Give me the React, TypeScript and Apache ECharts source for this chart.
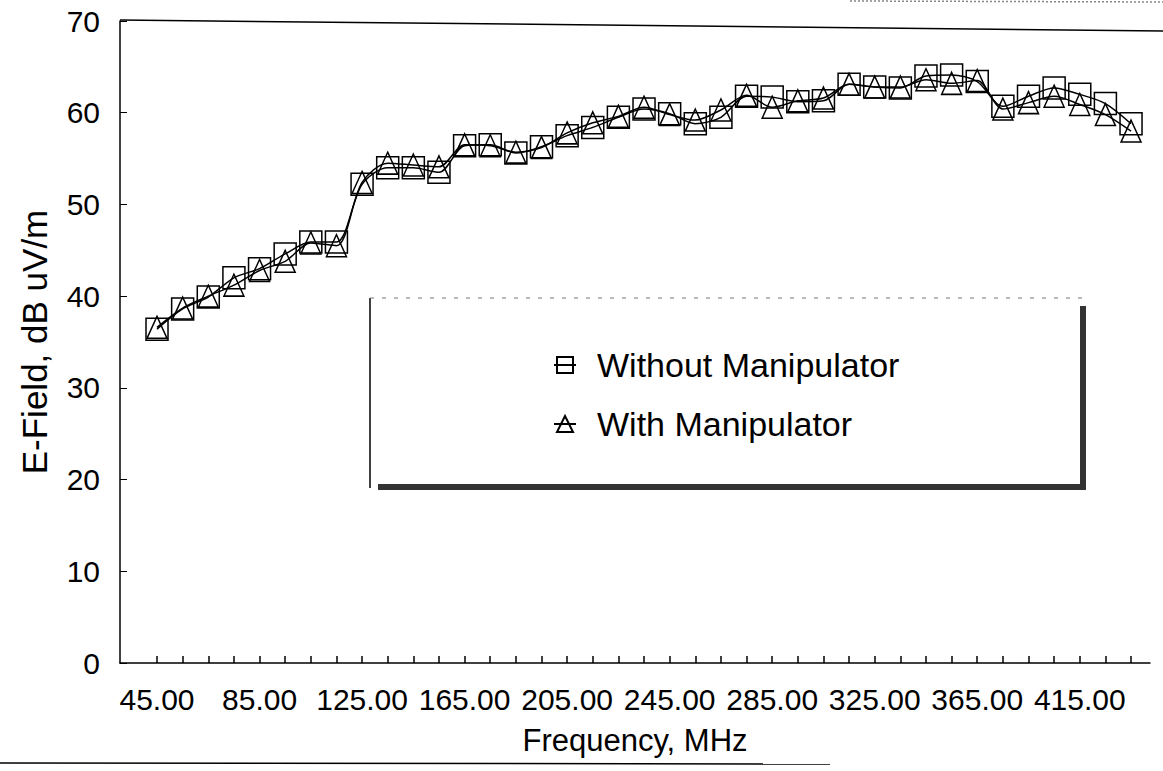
import React, { useEffect, useRef } from "react";
import * as echarts from "echarts";

// Frequency categories (MHz); one point per category
const freqs: number[] = [
  45, 55, 65, 75, 85, 95, 105, 115, 125, 135, 145, 155, 165, 175, 185, 195,
  205, 215, 225, 235, 245, 255, 265, 275, 285, 295, 305, 315, 325, 335, 345,
  355, 365, 375, 385, 400, 415, 425, 435,
];

// Indices of categories that carry a tick label (every 4th)
const labelIdx: number[] = [0, 4, 8, 12, 16, 20, 24, 28, 32, 36];

// E-Field, dB uV/m
const withoutManip: number[] = [
  36.4, 38.6, 39.9, 42.0, 43.0, 44.6, 45.9, 45.9, 52.2, 54.0, 54.0, 53.5,
  56.4, 56.5, 55.6, 56.3, 57.5, 58.4, 59.5, 60.4, 59.9, 58.8, 59.5, 61.8,
  61.7, 61.2, 61.3, 63.1, 62.8, 62.7, 64.0, 64.1, 63.4, 60.7, 61.8, 62.7,
  62.0, 61.0, 58.8,
];
const withManip: number[] = [
  36.6, 38.7, 40.0, 41.2, 42.8, 43.8, 45.8, 45.5, 52.4, 54.5, 54.3, 54.1,
  56.5, 56.4, 55.7, 56.2, 57.8, 58.9, 59.6, 60.6, 59.8, 59.2, 60.3, 61.9,
  60.6, 61.3, 61.6, 63.1, 62.8, 62.8, 63.6, 63.2, 63.5, 60.4, 61.1, 61.8,
  60.9, 59.8, 58.0,
];

const yTicks: number[] = [0, 10, 20, 30, 40, 50, 60, 70];

const FONT = "'Liberation Sans', Arial, sans-serif";

export default function App() {
  const ref = useRef<HTMLDivElement>(null);

  useEffect(() => {
    if (!ref.current) return;
    const chart = echarts.init(ref.current, null, { renderer: "svg" });
    const idx = freqs.map((_, i) => i);
    const markerStyle = {
      color: "rgba(0,0,0,0)",
      borderColor: "#000",
      borderWidth: 1.5,
    };
    chart.setOption({
      animation: false,
      backgroundColor: "#fff",
      textStyle: { fontFamily: FONT, color: "#000" },
      grid: { left: 120, top: 21, width: 1030, height: 642, containLabel: false },
      xAxis: {
        type: "value",
        min: -1.444,
        max: 38.74,
        splitLine: { show: false },
        axisLine: { show: true, onZero: false, lineStyle: { color: "#000", width: 1.5 } },
        axisTick: {
          show: true,
          inside: true,
          length: 7,
          customValues: idx,
          lineStyle: { color: "#000", width: 1.5 },
        },
        axisLabel: {
          customValues: labelIdx,
          formatter: (v: number) => freqs[Math.round(v)].toFixed(2),
          fontSize: 30,
          color: "#000",
          fontFamily: FONT,
          margin: 21,
        },
        name: "Frequency, MHz",
        nameLocation: "middle",
        nameGap: 62,
        nameTextStyle: { fontSize: 31, color: "#000", fontFamily: FONT },
      },
      yAxis: {
        type: "value",
        min: 0,
        max: 70,
        interval: 10,
        splitLine: { show: false },
        axisLine: { show: true, onZero: false, lineStyle: { color: "#000", width: 1.5 } },
        axisTick: {
          show: true,
          inside: true,
          length: 7,
          lineStyle: { color: "#000", width: 1 },
        },
        axisLabel: {
          fontSize: 30,
          color: "#000",
          fontFamily: FONT,
          margin: 20,
          customValues: yTicks,
        },
        name: "E-Field, dB uV/m",
        nameLocation: "middle",
        nameGap: 68,
        nameTextStyle: { fontSize: 35, color: "#000", fontFamily: FONT },
      },
      legend: {
        left: 553,
        top: 348,
        orient: "vertical",
        itemWidth: 22,
        itemHeight: 20,
        itemGap: 25,
        padding: 0,
        selectedMode: false,
        textStyle: {
          fontSize: 34,
          color: "#000",
          fontFamily: FONT,
          padding: [0, 0, 0, 16],
        },
        data: ["Without Manipulator", "With Manipulator"],
      },
      graphic: [
        // plot top border
        {
          type: "line",
          z: 0,
          shape: { x1: 120, y1: 20, x2: 1163, y2: 31 },
          style: { stroke: "#000", lineWidth: 1.5 },
        },
        // top-right faint frame
        {
          type: "line",
          z: 0,
          shape: { x1: 850, y1: 1, x2: 1163, y2: 2 },
          style: { stroke: "#888", lineWidth: 1.5, lineDash: [2, 2] },
        },
        // bottom separator line
        {
          type: "line",
          z: 0,
          shape: { x1: 0, y1: 763, x2: 830, y2: 764 },
          style: { stroke: "#000", lineWidth: 1.5 },
        },
        // legend box
        {
          type: "line",
          z: 0,
          shape: { x1: 370, y1: 298, x2: 370, y2: 488 },
          style: { stroke: "#000", lineWidth: 1.5 },
        },
        {
          type: "line",
          z: 0,
          shape: { x1: 370, y1: 298, x2: 1082, y2: 298 },
          style: { stroke: "#777", lineWidth: 1, lineDash: [4, 8] },
        },
        {
          type: "rect",
          z: 0,
          shape: { x: 378, y: 484, width: 708, height: 6 },
          style: { fill: "#333" },
        },
        {
          type: "rect",
          z: 0,
          shape: { x: 1080, y: 306, width: 6, height: 184 },
          style: { fill: "#333" },
        },
      ],
      series: [
        {
          name: "Without Manipulator",
          type: "line",
          data: withoutManip.map((v, i) => [i, v]),
          symbol: "rect",
          symbolSize: 22,
          smooth: 0.3,
          lineStyle: { color: "#000", width: 1.5 },
          itemStyle: markerStyle,
        },
        {
          name: "With Manipulator",
          type: "line",
          data: withManip.map((v, i) => [i, v]),
          symbol: "triangle",
          symbolSize: [20, 22],
          smooth: 0.3,
          lineStyle: { color: "#000", width: 1.5 },
          itemStyle: markerStyle,
        },
      ],
    });
    return () => chart.dispose();
  }, []);

  return (
    <div
      ref={ref}
      style={{ position: "absolute", left: 0, top: 0, width: 1163, height: 771 }}
    />
  );
}
